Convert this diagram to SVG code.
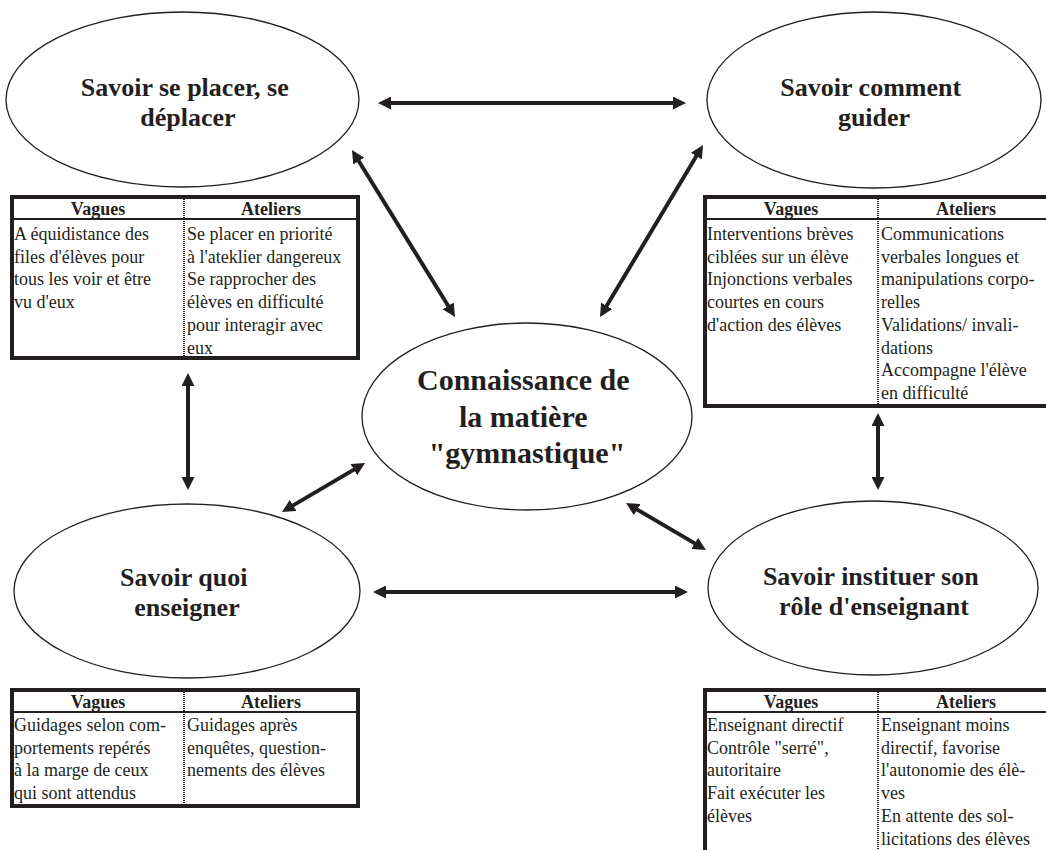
<svg xmlns="http://www.w3.org/2000/svg" width="1046" height="850" viewBox="0 0 1046 850">
  <style>
    .bg { fill: #ffffff; }
    .node { fill: #ffffff; stroke: #231f20; stroke-width: 1.3; }
    .title { font-family: "Liberation Serif", "Times New Roman", serif; font-weight: bold; font-size: 26px; fill: #231f20; text-anchor: middle; }
    .title-big { font-size: 30px; }
    .frame { fill: #ffffff; stroke: #231f20; stroke-width: 4; }
    .rule { stroke: #231f20; stroke-width: 2; }
    .dots { stroke: #231f20; stroke-width: 2; stroke-dasharray: 1 1; }
    .head { font-family: "Liberation Serif", "Times New Roman", serif; font-weight: bold; font-size: 18px; fill: #231f20; text-anchor: middle; }
    .cell { font-family: "Liberation Serif", "Times New Roman", serif; font-size: 18px; fill: #231f20; }
    .link { stroke: #231f20; stroke-width: 4; fill: none; marker-start: url(#tip); marker-end: url(#tip); }
  </style>
  <defs>
    <marker id="tip" viewBox="0 0 13 13" refX="4" refY="6.5" markerWidth="13" markerHeight="13" markerUnits="userSpaceOnUse" orient="auto-start-reverse">
      <path d="M0,0 L13,6.5 L0,13 z" fill="#231f20"/>
    </marker>
  </defs>

  <rect class="bg" x="0" y="0" width="1046" height="850"/>

  <!-- connectors: all double-headed -->
  <g id="connectors">
    <line class="link" x1="387" y1="103" x2="677" y2="103"/>
    <line class="link" x1="382" y1="592" x2="679" y2="592"/>
    <line class="link" x1="188" y1="382" x2="188" y2="481"/>
    <line class="link" x1="878" y1="422" x2="878" y2="481"/>
    <line class="link" x1="356.7" y1="157.7" x2="450.3" y2="309.3"/>
    <line class="link" x1="604.6" y1="309.3" x2="698.4" y2="152.7"/>
    <line class="link" x1="289.7" y1="507.4" x2="357.3" y2="467.6"/>
    <line class="link" x1="633.8" y1="507.6" x2="698.2" y2="545.4"/>
  </g>

  <!-- central knowledge node -->
  <g id="node-matiere">
    <ellipse class="node" cx="527" cy="416.5" rx="165" ry="93.5"/>
    <text class="title title-big">
      <tspan x="527" y="390">Connaissance de</tspan>
      <tspan x="527" y="426.5">la matière</tspan>
      <tspan x="527" y="463">"gymnastique"</tspan>
    </text>
  </g>

  <!-- top left -->
  <g id="node-placer">
    <ellipse class="node" cx="182.5" cy="99.5" rx="176.5" ry="87.5"/>
    <text class="title">
      <tspan x="188" y="96">Savoir se placer, se</tspan>
      <tspan x="188" y="126">déplacer</tspan>
    </text>
  </g>
  <g id="table-placer">
    <rect class="frame" x="12" y="197" width="346" height="161"/>
    <line class="rule" x1="12" y1="219" x2="358" y2="219"/>
    <line class="dots" x1="184" y1="199" x2="184" y2="356"/>
    <text class="head" x="98" y="215">Vagues</text>
    <text class="head" x="271" y="215">Ateliers</text>
    <text class="cell">
      <tspan x="14" y="240">A équidistance des</tspan>
      <tspan x="14" y="262.7">files d'élèves pour</tspan>
      <tspan x="14" y="285.4">tous les voir et être</tspan>
      <tspan x="14" y="308.1">vu d'eux</tspan>
    </text>
    <text class="cell">
      <tspan x="187" y="240">Se placer en priorité</tspan>
      <tspan x="187" y="262.7">à l'ateklier dangereux</tspan>
      <tspan x="187" y="285.4">Se rapprocher des</tspan>
      <tspan x="187" y="308.1">élèves en difficulté</tspan>
      <tspan x="187" y="330.8">pour interagir avec</tspan>
      <tspan x="187" y="353.5">eux</tspan>
    </text>
  </g>

  <!-- top right -->
  <g id="node-guider">
    <ellipse class="node" cx="874" cy="100" rx="167" ry="88"/>
    <text class="title">
      <tspan x="874" y="96">Savoir comment</tspan>
      <tspan x="874" y="126">guider</tspan>
    </text>
  </g>
  <g id="table-guider">
    <rect class="frame" x="705" y="197" width="352" height="209"/>
    <line class="rule" x1="705" y1="219" x2="1057" y2="219"/>
    <line class="dots" x1="878" y1="199" x2="878" y2="404"/>
    <text class="head" x="791" y="215">Vagues</text>
    <text class="head" x="966" y="215">Ateliers</text>
    <text class="cell">
      <tspan x="707" y="240">Interventions brèves</tspan>
      <tspan x="707" y="262.7">ciblées sur un élève</tspan>
      <tspan x="707" y="285.4">Injonctions verbales</tspan>
      <tspan x="707" y="308.1">courtes en cours</tspan>
      <tspan x="707" y="330.8">d'action des élèves</tspan>
    </text>
    <text class="cell">
      <tspan x="881" y="240">Communications</tspan>
      <tspan x="881" y="262.7">verbales longues et</tspan>
      <tspan x="881" y="285.4">manipulations corpo-</tspan>
      <tspan x="881" y="308.1">relles</tspan>
      <tspan x="881" y="330.8">Validations/ invali-</tspan>
      <tspan x="881" y="353.5">dations</tspan>
      <tspan x="881" y="376.2">Accompagne l'élève</tspan>
      <tspan x="881" y="398.9">en difficulté</tspan>
    </text>
  </g>

  <!-- bottom left -->
  <g id="node-enseigner">
    <ellipse class="node" cx="187" cy="591" rx="173" ry="87"/>
    <text class="title">
      <tspan x="187" y="586">Savoir quoi</tspan>
      <tspan x="187" y="616">enseigner</tspan>
    </text>
  </g>
  <g id="table-enseigner">
    <rect class="frame" x="12" y="690" width="346" height="116"/>
    <line class="rule" x1="12" y1="712" x2="358" y2="712"/>
    <line class="dots" x1="184" y1="692" x2="184" y2="804"/>
    <text class="head" x="98" y="708">Vagues</text>
    <text class="head" x="271" y="708">Ateliers</text>
    <text class="cell">
      <tspan x="14" y="731">Guidages selon com-</tspan>
      <tspan x="14" y="753.7">portements repérés</tspan>
      <tspan x="14" y="776.4">à la marge de ceux</tspan>
      <tspan x="14" y="799.1">qui sont attendus</tspan>
    </text>
    <text class="cell">
      <tspan x="187" y="731">Guidages après</tspan>
      <tspan x="187" y="753.7">enquêtes, question-</tspan>
      <tspan x="187" y="776.4">nements des élèves</tspan>
    </text>
  </g>

  <!-- bottom right -->
  <g id="node-instituer">
    <ellipse class="node" cx="873" cy="588" rx="165" ry="87"/>
    <text class="title">
      <tspan x="874" y="585">Savoir instituer son</tspan>
      <tspan x="874" y="615">rôle d'enseignant</tspan>
    </text>
  </g>
  <g id="table-instituer">
    <rect class="frame" x="705" y="690" width="352" height="200"/>
    <line class="rule" x1="705" y1="712" x2="1057" y2="712"/>
    <line class="dots" x1="878" y1="692" x2="878" y2="850"/>
    <text class="head" x="791" y="708">Vagues</text>
    <text class="head" x="966" y="708">Ateliers</text>
    <text class="cell">
      <tspan x="707" y="731">Enseignant directif</tspan>
      <tspan x="707" y="753.7">Contrôle "serré",</tspan>
      <tspan x="707" y="776.4">autoritaire</tspan>
      <tspan x="707" y="799.1">Fait exécuter les</tspan>
      <tspan x="707" y="821.8">élèves</tspan>
    </text>
    <text class="cell">
      <tspan x="881" y="731">Enseignant moins</tspan>
      <tspan x="881" y="753.7">directif, favorise</tspan>
      <tspan x="881" y="776.4">l'autonomie des élè-</tspan>
      <tspan x="881" y="799.1">ves</tspan>
      <tspan x="881" y="821.8">En attente des sol-</tspan>
      <tspan x="881" y="844.5">licitations des élèves</tspan>
    </text>
  </g>
</svg>
